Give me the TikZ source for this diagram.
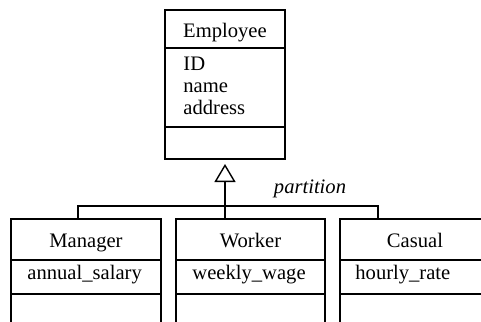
\documentclass[tikz,border=0pt]{standalone}
\usepackage{fontspec}
\setmainfont{Liberation Serif}
\usetikzlibrary{positioning}
\usetikzlibrary{arrows.meta}
\newcommand{\umlfont}{\fontsize{10.3}{11}\selectfont}
\tikzset{
    classpart/.style={draw=black, line width=0.7pt, inner sep=0pt, outer sep=0pt,
        text height=8.5pt, text depth=0.5pt, font=\umlfont},
    attrlist/.style={inner sep=0pt, align=left, anchor=base west, font=\umlfont},
    inherit/.style={draw=black, line width=0.7pt},
    generalise/.style={draw=black, line width=0.7pt,
        -{Triangle[open, length=9pt, width=10.5pt]}}
}

\begin{document}
\begin{tikzpicture}[x=0.5pt, y=-0.5pt]
\useasboundingbox (0,0) rectangle (481,321);
\clip (0,0) rectangle (481,321);
% superclass
\node[classpart, minimum width=60pt, minimum height=19pt, anchor=north west] (emp) at (165,10) {Employee};
\node[classpart, minimum width=60pt, minimum height=39.5pt, below=0pt of emp] (emp-attr) {};
\node[classpart, minimum width=60pt, minimum height=16pt, below=0pt of emp-attr] (emp-ops) {};
\node[attrlist] (emp-list) at ([xshift=9pt, yshift=-33pt]emp-attr.north west) {ID\\name\\address};
% subclasses
\node[classpart, minimum width=75pt, minimum height=20.5pt, anchor=north west] (mgr) at (11,219) {Manager};
\node[classpart, minimum width=75pt, minimum height=17pt, below=0pt of mgr] (mgr-attr) {};
\node[classpart, minimum width=75pt, minimum height=23pt, below=0pt of mgr-attr] (mgr-ops) {};
\node[attrlist] (mgr-list) at ([xshift=8pt, yshift=-9.5pt]mgr-attr.north west) {annual\_salary};

\node[classpart, minimum width=74.5pt, minimum height=20.5pt, right=7.5pt of mgr] (wkr) {Worker};
\node[classpart, minimum width=74.5pt, minimum height=17pt, below=0pt of wkr] (wkr-attr) {};
\node[classpart, minimum width=74.5pt, minimum height=23pt, below=0pt of wkr-attr] (wkr-ops) {};
\node[attrlist] (wkr-list) at ([xshift=8pt, yshift=-9.5pt]wkr-attr.north west) {weekly\_wage};

\node[classpart, minimum width=75pt, minimum height=20.5pt, right=7.5pt of wkr] (cas) {Casual};
\node[classpart, minimum width=75pt, minimum height=17pt, below=0pt of cas] (cas-attr) {};
\node[classpart, minimum width=75pt, minimum height=23pt, below=0pt of cas-attr] (cas-ops) {};
\node[attrlist] (cas-list) at ([xshift=7.5pt, yshift=-9.5pt]cas-attr.north west) {hourly\_rate};
% generalisation
\coordinate (split) at ([yshift=-23.5pt]emp-ops.south);
\draw[inherit] ([xshift=-4pt]mgr.north) |- (split) -| ([xshift=-18.5pt]cas.north);
\draw[generalise, shorten >=2.5pt] (wkr.north -| emp-ops.south) -- (emp-ops.south);
\node[font=\umlfont\itshape, anchor=base] (part) at (310,193) {partition};
\end{tikzpicture}
\end{document}
